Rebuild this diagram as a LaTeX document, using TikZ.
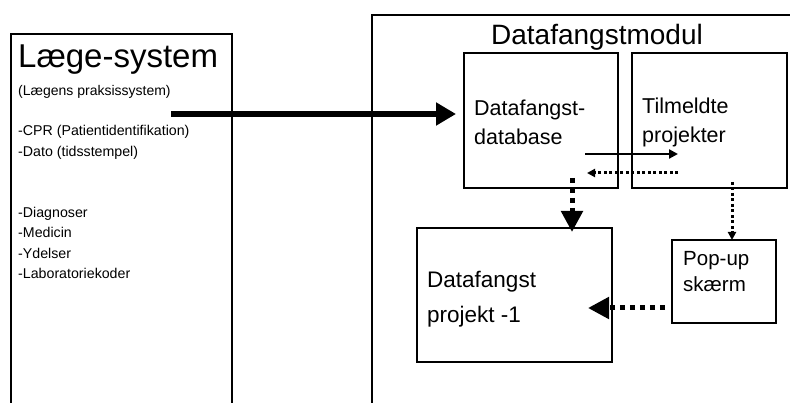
\documentclass[tikz,border=0pt]{standalone}
\usepackage{fontspec}
\setmainfont{Liberation Sans}
\usetikzlibrary{arrows.meta}
\tikzset{
  box/.style={draw, line width=2pt, inner sep=0pt},
  lbl/.style={anchor=west, inner sep=0pt, align=left},
  bigarrow/.style={line width=6pt, -{Triangle[length=20pt,width=22pt]}},
  dasharrow/.style={line width=5pt, dash pattern=on 5pt off 5pt, -{Triangle[length=21pt,width=21pt]}},
  thinarrow/.style={line width=2.2pt, -{Triangle[length=9pt,width=9pt]}},
  dotarrow/.style={line width=3pt, dash pattern=on 3pt off 2.5pt, -{Triangle[length=8pt,width=8pt]}}
}
\begin{document}
\begin{tikzpicture}[x=1pt,y=-1pt]
\clip (0,0) rectangle (790,403);
\fill[white] (0,0) rectangle (790,403);

\node[box, anchor=north west, minimum width=221, minimum height=420] (laege) at (9.5,33) {};
\node[lbl, font=\fontsize{33}{36}\selectfont] (laegenavn) at (18,60) {Læge-system};
\node[lbl, font=\fontsize{14}{16}\selectfont] (praksis) at (18,92) {(Lægens praksissystem)};
\node[lbl, font=\fontsize{14.2}{20.5}\selectfont] (felt1) at (18,142.5) {-CPR (Patientidentifikation)\\-Dato (tidsstempel)};
\node[lbl, font=\fontsize{14.2}{20.3}\selectfont] (felt2) at (18,243) {-Diagnoser\\-Medicin\\-Ydelser\\-Laboratoriekoder};

\node[box, anchor=north west, minimum width=500, minimum height=450] (modul) at (371,14) {};
\node[font=\fontsize{28}{30}\selectfont, inner sep=0pt] (modulnavn) at (597,37) {Datafangstmodul};

\node[box, minimum width=154, minimum height=135] (dbase) at (541,120.5) {};
\node[lbl, font=\fontsize{21.5}{29}\selectfont] (dbasetxt) at (474,122.5) {Datafangst-\\database};
\node[box, minimum width=155, minimum height=135] (tilm) at (709.5,120.5) {};
\node[lbl, font=\fontsize{21.5}{29}\selectfont] (tilmtxt) at (642,122.5) {Tilmeldte\\projekter};
\node[box, minimum width=195, minimum height=134] (proj) at (514.5,295) {};
\node[lbl, font=\fontsize{22.5}{35}\selectfont] (projtxt) at (427,299.5) {Datafangst\\projekt -1};
\node[box, minimum width=104, minimum height=83] (popup) at (724,281.5) {};
\node[lbl, font=\fontsize{20.5}{26}\selectfont] (popuptxt) at (683,272) {Pop-up\\skærm};

\coordinate (ud) at (171,114);
\coordinate (s1) at (585,154);
\coordinate (s2) at (678,154);
\coordinate (r1) at (678,173);
\coordinate (r2) at (587,173);
\coordinate (d1) at (572,178);
\coordinate (t1) at (732,182);
\coordinate (p1) at (665,308);

\draw[bigarrow, shorten >=7pt] (ud) -- (ud -| dbase.west);
\draw[thinarrow] (s1) -- (s2);
\draw[dotarrow] (r1) -- (r2);
\draw[dasharrow, shorten >=-5pt] (d1) -- (d1 |- proj.north);
\draw[dotarrow, shorten >=-1pt] (t1) -- (t1 |- popup.north);
\draw[dasharrow, shorten >=-25pt] (p1) -- (p1 -| proj.east);
\end{tikzpicture}
\end{document}
